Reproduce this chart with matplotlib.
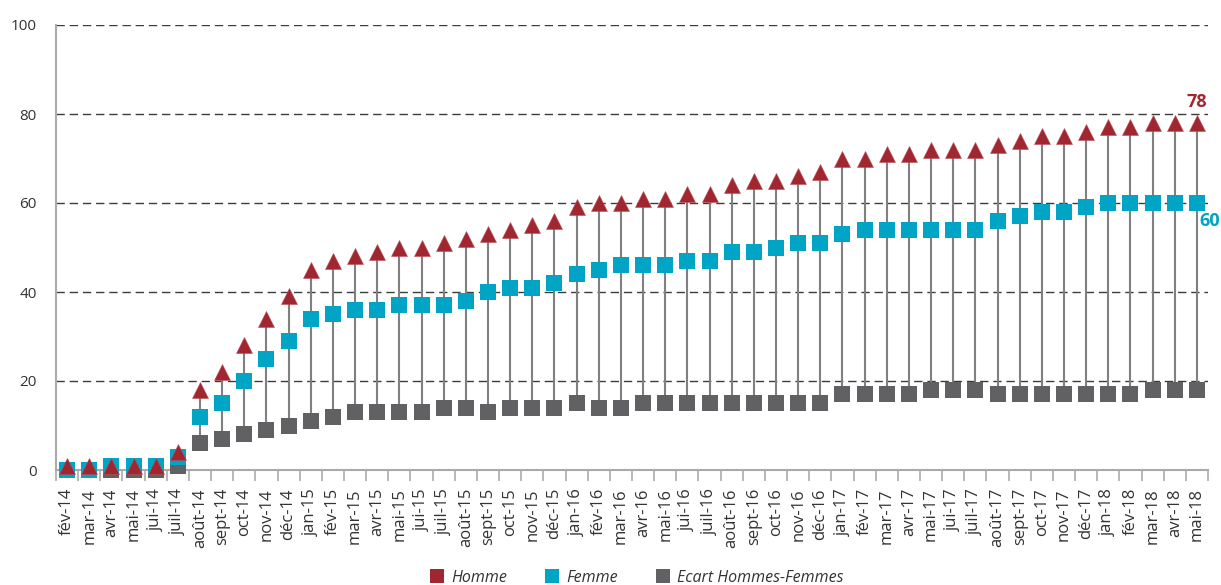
import numpy as np
import matplotlib
matplotlib.use("Agg")
import matplotlib.pyplot as plt
from matplotlib.ticker import FixedLocator, NullFormatter
from matplotlib.lines import Line2D

plt.rcParams["font.family"] = ["Open Sans", "DejaVu Sans"]

# =====================================================
# DATA
# =====================================================

mois = [
    "fév-14", "mar-14", "avr-14", "mai-14", "jui-14", "juil-14",
    "août-14", "sept-14", "oct-14", "nov-14", "déc-14",
    "jan-15", "fév-15", "mar-15", "avr-15", "mai-15", "jui-15",
    "juil-15", "août-15", "sept-15", "oct-15", "nov-15", "déc-15",
    "jan-16", "fév-16", "mar-16", "avr-16", "mai-16", "jui-16",
    "juil-16", "août-16", "sept-16", "oct-16", "nov-16", "déc-16",
    "jan-17", "fév-17", "mar-17", "avr-17", "mai-17", "jui-17",
    "juil-17", "août-17", "sept-17", "oct-17", "nov-17", "déc-17",
    "jan-18", "fév-18", "mar-18", "avr-18", "mai-18",
]

homme = [
    1, 1, 1, 1, 1, 4, 18, 22, 28, 34, 39,
    45, 47, 48, 49, 50, 50, 51, 52, 53, 54, 55, 56,
    59, 60, 60, 61, 61, 62, 62, 64, 65, 65, 66, 67,
    70, 70, 71, 71, 72, 72, 72, 73, 74, 75, 75, 76,
    77, 77, 78, 78, 78,
]

femme = [
    0, 0, 1, 1, 1, 3, 12, 15, 20, 25, 29,
    34, 35, 36, 36, 37, 37, 37, 38, 40, 41, 41, 42,
    44, 45, 46, 46, 46, 47, 47, 49, 49, 50, 51, 51,
    53, 54, 54, 54, 54, 54, 54, 56, 57, 58, 58, 59,
    60, 60, 60, 60, 60,
]

ecart = [
    0, 0, 0, 0, 0, 1, 6, 7, 8, 9, 10,
    11, 12, 13, 13, 13, 13, 14, 14, 13, 14, 14, 14,
    15, 14, 14, 15, 15, 15, 15, 15, 15, 15, 15, 15,
    17, 17, 17, 17, 18, 18, 18, 17, 17, 17, 17, 17,
    17, 17, 18, 18, 18,
]

# =====================================================
# STYLE
# =====================================================

c_homme = "#A0262F"
c_femme = "#00A4C4"
c_ecart = "#616163"
c_text = "#333333"
c_axis = "#A8ABAE"

x = np.arange(len(mois))

fig = plt.figure(
    figsize=(12.21, 5.85),
    dpi=100
)

ax = fig.add_axes([56 / 1221, 1 - 470 / 585, 1152 / 1221, 445 / 585])

# grid
for val in [20, 40, 60, 80, 100]:
    ax.axhline(
        val,
        color="#3C3C3C",
        linewidth=1.0,
        linestyle=(0, (6, 3.5)),
        zorder=1
    )

# high-low lines
ax.vlines(
    x,
    np.minimum(ecart, femme),
    homme,
    color="#808080",
    linewidth=1.5,
    zorder=2
)

ax.plot(
    x, ecart,
    linestyle="none", marker="s", markersize=12,
    color=c_ecart, markeredgewidth=0,
    zorder=3, clip_on=False
)

ax.plot(
    x, femme,
    linestyle="none", marker="s", markersize=12,
    color=c_femme, markeredgewidth=0,
    zorder=4, clip_on=False
)

ax.plot(
    x, homme,
    linestyle="none", marker="^", markersize=11.2,
    color=c_homme, markeredgecolor="#B8505A", markeredgewidth=0.4,
    zorder=5, clip_on=False
)

# end labels
ax.annotate(
    str(homme[-1]),
    xy=(x[-1], homme[-1]),
    xytext=(0, 15),
    textcoords="offset points",
    ha="center", va="center",
    fontsize=13, fontweight="bold",
    color=c_homme
)

ax.annotate(
    str(femme[-1]),
    xy=(x[-1], femme[-1]),
    xytext=(2, -13),
    textcoords="offset points",
    ha="left", va="center",
    fontsize=13, fontweight="bold",
    color=c_femme,
    annotation_clip=False
)

# =====================================================
# AXES
# =====================================================

ax.set_xlim(-0.5, len(mois) - 0.5)
ax.set_ylim(0, 100)

ax.set_yticks([0, 20, 40, 60, 80, 100])
ax.tick_params(
    axis="y", length=0, pad=14,
    labelsize=11, labelcolor=c_text
)

ax.set_xticks(x)
ax.set_xticklabels(mois, rotation=90)
ax.tick_params(
    axis="x", which="major", length=0, pad=13,
    labelsize=12, labelcolor=c_text
)
ax.xaxis.set_minor_locator(FixedLocator(np.arange(-0.5, len(mois), 1.0)))
ax.xaxis.set_minor_formatter(NullFormatter())
ax.tick_params(
    axis="x", which="minor", length=8, width=1.2,
    color=c_axis, direction="out"
)

for side in ["top", "right"]:
    ax.spines[side].set_visible(False)

for side in ["left", "bottom"]:
    ax.spines[side].set_color(c_axis)
    ax.spines[side].set_linewidth(1.5)

# =====================================================
# LEGEND
# =====================================================

handles = [
    Line2D([], [], linestyle="none", marker="s", markersize=9.5,
           color=c_homme, markeredgewidth=0),
    Line2D([], [], linestyle="none", marker="s", markersize=9.5,
           color=c_femme, markeredgewidth=0),
    Line2D([], [], linestyle="none", marker="s", markersize=9.5,
           color=c_ecart, markeredgewidth=0),
]

leg = fig.legend(
    handles,
    ["Homme", "Femme", "Ecart Hommes-Femmes"],
    loc="center",
    bbox_to_anchor=(637 / 1221, 1 - 578 / 585),
    ncol=3,
    frameon=False,
    handlelength=0.8,
    handletextpad=0.5,
    columnspacing=2.4,
    prop={"size": 11.5, "style": "italic"}
)

for t in leg.get_texts():
    t.set_color(c_text)

plt.savefig(
    "out.png",
    dpi=100
)

plt.close()
